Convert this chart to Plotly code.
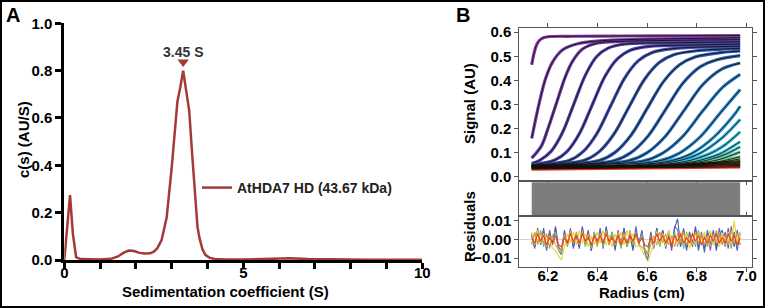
import numpy as np
import plotly.graph_objects as go

W, H = 765, 308
FONT = "Liberation Sans, Arial, sans-serif"

# ---------------- Panel A data: c(s) distribution ----------------
sed_s = [0, 0.08, 0.16, 0.24, 0.33, 0.45, 0.7, 1.0, 1.3, 1.5, 1.65, 1.8, 1.95, 2.1, 2.25, 2.4,
         2.5, 2.6, 2.72, 2.86, 3.0, 3.08, 3.16, 3.24, 3.32, 3.4, 3.49, 3.57, 3.65, 3.72, 3.78,
         3.86, 3.94, 4.05, 4.2, 4.5, 5.0, 5.5, 5.9, 6.3, 6.8, 7.5, 8.5, 10]
cs_vals = [0, 0.13, 0.274, 0.11, 0.012, 0.004, 0.002, 0.002, 0.005, 0.015, 0.03, 0.04, 0.038,
           0.03, 0.027, 0.028, 0.035, 0.05, 0.085, 0.18, 0.39, 0.55, 0.67, 0.73, 0.80, 0.72,
           0.63, 0.45, 0.26, 0.14, 0.09, 0.045, 0.022, 0.01, 0.004, 0.002, 0.002, 0.004, 0.008,
           0.007, 0.004, 0.002, 0.001, 0.001]
peak_label = "3.45 S"
legend_label = "AtHDA7 HD (43.67 kDa)"
a_xticks = [0, 1, 2, 3, 4, 5, 6, 7, 8, 9, 10]
a_xticktext = ["0", "", "", "", "", "5", "", "", "", "", "10"]
a_yticks = [0.0, 0.2, 0.4, 0.6, 0.8, 1.0]

# ---------------- Panel B data: absorbance scans ----------------
scans_r = [
    [6.135, 6.145, 6.155, 6.168, 6.185, 6.21, 6.3, 6.5, 6.75, 6.975],
    [6.135, 6.15, 6.165, 6.19, 6.22, 6.26, 6.32, 6.42, 6.6, 6.8, 6.975],
    [6.135, 6.175, 6.2, 6.235, 6.27, 6.3, 6.34, 6.4, 6.5, 6.7, 6.975],
    [6.135, 6.167, 6.213, 6.259, 6.305, 6.351, 6.397, 6.443, 6.512, 6.7, 6.975],
    [6.135, 6.226, 6.277, 6.328, 6.379, 6.43, 6.481, 6.532, 6.609, 6.8, 6.975],
    [6.135, 6.285, 6.341, 6.397, 6.453, 6.509, 6.565, 6.621, 6.705, 6.975],
    [6.135, 6.344, 6.405, 6.466, 6.527, 6.588, 6.649, 6.71, 6.8, 6.975],
    [6.135, 6.406, 6.471, 6.536, 6.601, 6.666, 6.731, 6.796, 6.894, 6.975],
    [6.135, 6.465, 6.535, 6.605, 6.675, 6.745, 6.815, 6.885, 6.975],
    [6.135, 6.524, 6.599, 6.674, 6.749, 6.824, 6.899, 6.975],
    [6.135, 6.583, 6.663, 6.743, 6.823, 6.903, 6.975],
    [6.135, 6.4, 6.645, 6.729, 6.813, 6.897, 6.975],
    [6.135, 6.5, 6.691, 6.779, 6.867, 6.955, 6.975],
    [6.135, 6.55, 6.717, 6.809, 6.901, 6.975],
    [6.135, 6.6, 6.753, 6.849, 6.91, 6.975],
    [6.135, 6.6, 6.79, 6.84, 6.89, 6.975],
    [6.135, 6.65, 6.813, 6.864, 6.916, 6.975],
    [6.135, 6.65, 6.846, 6.899, 6.975],
    [6.135, 6.7, 6.836, 6.891, 6.975],
    [6.135, 6.7, 6.865, 6.975],
    [6.135, 6.7, 6.975],
    [6.135, 6.7, 6.975],
    [6.135, 6.7, 6.975],
    [6.135, 6.7, 6.975],
    [6.135, 6.7, 6.975],
    [6.135, 6.7, 6.975],
    [6.135, 6.7, 6.975],
    [6.135, 6.975],
]
scans_v = [
    [0.465, 0.515, 0.548, 0.568, 0.578, 0.582, 0.583, 0.584, 0.585, 0.586],
    [0.16, 0.235, 0.305, 0.405, 0.478, 0.527, 0.552, 0.565, 0.571, 0.574, 0.577],
    [0.078, 0.13, 0.199, 0.307, 0.414, 0.48, 0.53, 0.555, 0.562, 0.566, 0.569],
    [0.056, 0.069, 0.106, 0.184, 0.303, 0.421, 0.499, 0.534, 0.551, 0.556, 0.56],
    [0.05, 0.069, 0.105, 0.181, 0.299, 0.416, 0.49, 0.525, 0.541, 0.547, 0.551],
    [0.048, 0.068, 0.104, 0.179, 0.294, 0.409, 0.482, 0.516, 0.532, 0.542],
    [0.048, 0.068, 0.103, 0.177, 0.29, 0.402, 0.474, 0.507, 0.523, 0.533],
    [0.048, 0.068, 0.102, 0.174, 0.285, 0.395, 0.465, 0.498, 0.515, 0.522],
    [0.048, 0.067, 0.101, 0.171, 0.28, 0.389, 0.457, 0.487, 0.503],
    [0.048, 0.067, 0.1, 0.169, 0.276, 0.382, 0.446, 0.472],
    [0.048, 0.066, 0.099, 0.167, 0.272, 0.37, 0.425],
    [0.048, 0.048, 0.066, 0.098, 0.165, 0.268, 0.362],
    [0.047, 0.048, 0.066, 0.097, 0.163, 0.263, 0.293],
    [0.047, 0.048, 0.065, 0.096, 0.161, 0.238],
    [0.046, 0.048, 0.064, 0.095, 0.13, 0.187],
    [0.046, 0.047, 0.064, 0.077, 0.094, 0.146],
    [0.045, 0.047, 0.063, 0.076, 0.094, 0.125],
    [0.045, 0.047, 0.063, 0.075, 0.104],
    [0.044, 0.048, 0.057, 0.064, 0.084],
    [0.043, 0.048, 0.057, 0.075],
    [0.042, 0.05, 0.068],
    [0.041, 0.049, 0.064],
    [0.04, 0.048, 0.061],
    [0.039, 0.047, 0.058],
    [0.038, 0.045, 0.055],
    [0.037, 0.044, 0.052],
    [0.035, 0.041, 0.048],
    [0.033, 0.042],
]
scan_colors = ["#8B3FA8", "#7A3EA5", "#6A3FA4", "#5A3FA6", "#4B45A8", "#3F4EAA", "#3556AA",
               "#2F5CAD", "#2D63B0", "#2C6CB5", "#2B77BC", "#2C86C6", "#2E98D2", "#32ABDC",
               "#38BBDF", "#45C2D4", "#55C4BE", "#62C3A6", "#6FC38C", "#7BC470", "#86C55A",
               "#97C84A", "#AECD3E", "#C8D338", "#E2D934", "#F2C12E", "#F08A28", "#E8331F"]

# residuals (in units of 1e-3 AU), read along the radius range
resid_purple = [3, -5, 6, -2, 4, -6, 5, -3, 7, -4, -6, 5, -3, 6, -5, 3, -4, 7, -2, 5, -6, 4, -3, 6, -5, 7,
                -2, 4, -6, 5, -3, 6, -4, 3, -5, 7, -3, 5, -6, -8, 4, -5, 6, -3, 5, -4, 3, -6, 7, 5, -4, 6,
                -5, 3, -4, 7, -6, 4, -5, 3, -6, 5, -4, 6, -3, 4, -5, 7, -4, 5, -3]
resid_blue = [2, -4, 5, -3, 6, -5, 3, -2, 6, -6, -8, 4, -3, 5, -4, 2, -5, 6, -3, 4, -6, 3, -2, 5, -4, 6,
              -3, 2, -5, 4, -3, 6, -4, 3, -6, 5, -2, 4, -7, -11, 3, -4, 6, -3, 5, -5, 2, -4, 6, 11, -3, 5,
              -6, 4, -2, 6, -5, 3, -7, 5, -3, 4, -6, 2, 5, -4, 6, -3, 4, -6, 3]
resid_green = [-3, 4, -2, 5, -4, 3, -5, 2, 4, -6, -7, 3, -4, 5, -2, 4, -3, 5, -4, 2, -5, 4, -3, 3, -4, 5,
               -2, 4, -3, 2, -5, 3, -4, 5, -3, 4, -2, 3, -5, -8, 2, -3, 5, -4, 3, -2, 5, -3, 4, -4, 3, -5,
               4, -2, 3, -4, 5, -3, 2, -4, 4, -3, 5, -2, 3, -4, 4, -5, 3, -2, 4]
resid_yellow = [4, -3, 5, -2, 3, -4, 2, -5, -6, -9, -11, -4, 3, -2, 4, -3, 5, -2, 3, -4, 2, -3, 4, -2, 5,
                -3, 2, -4, 3, -2, 4, -3, 5, -2, 3, -4, -3, -6, -9, -12, -7, -3, 4, -2, 3, -4, 5, -3, 2, -3,
                4, -2, 3, -5, 4, -2, 3, -3, 4, -2, 5, -3, 2, -4, 3, -2, 4, -3, 10, -2, 3]
resid_orange = [-2, 3, -3, 4, -2, 3, -4, 2, -3, -5, -6, 2, -3, 4, -2, 3, -3, 4, -2, 3, -3, 2, -4, 3, -2, 4,
                -3, 2, -3, 4, -2, 3, -3, 4, -2, 3, -3, -4, -6, -8, -3, 2, -3, 4, -2, 3, -3, 2, -4, 3, -2,
                4, -3, 2, -3, 4, -2, 3, -3, 2, -4, 3, -2, 4, -3, 2, -3, 5, -2, 3, -3]
resid_red = [1, -2, 3, -1, 2, -3, 1, -2, 2, -3, -4, 1, -2, 3, -1, 2, -2, 3, -1, 1, -3, 2, -1, 2, -2, 3, -1,
             1, -2, 2, -3, 1, -2, 2, -1, 3, -2, 1, -3, -4, 1, -2, 3, -1, 2, -2, 1, -3, 2, -1, 3, -2, 1, -2,
             3, -1, 2, -3, 1, -2, 2, -1, 3, -2, 1, -2, 3, -1, 2, -3, 1]
resid_series = [(resid_purple, "#7E4FB8"), (resid_blue, "#3E63C0"), (resid_green, "#62C27A"),
                (resid_yellow, "#E9D33A"), (resid_orange, "#F3972E"), (resid_red, "#EC3B1E")]

b_xticks = [6.2, 6.4, 6.6, 6.8, 7.0]
b_yticks = [0.0, 0.1, 0.2, 0.3, 0.4, 0.5, 0.6]
r_yticks = [-0.01, 0.0, 0.01]

# ---------------- geometry helpers (pixels -> paper) ----------------
def px(x):
    return x / W

def py(y):
    return 1 - y / H

fig = go.Figure()

# Panel A
A_RED = "#A43A37"
fig.add_trace(go.Scatter(x=sed_s, y=cs_vals, mode="lines", name=legend_label,
                         line=dict(color=A_RED, width=2.5), xaxis="x", yaxis="y",
                         showlegend=True))
ipk = int(np.argmax(cs_vals))
fig.add_trace(go.Scatter(x=[sed_s[ipk]], y=[cs_vals[ipk] + 0.037], mode="markers",
                         marker=dict(symbol="triangle-down", size=10, color=A_RED),
                         xaxis="x", yaxis="y", showlegend=False, hoverinfo="skip"))

# Panel B main: colored scans then black fits
for r, v, c in zip(scans_r, scans_v, scan_colors):
    fig.add_trace(go.Scatter(x=r, y=v, mode="lines", line=dict(color=c, width=3.2, shape="spline", smoothing=0.9),
                             xaxis="x2", yaxis="y2", showlegend=False, hoverinfo="skip"))
for r, v in zip(scans_r, scans_v):
    fig.add_trace(go.Scatter(x=r, y=v, mode="lines", line=dict(color="#111111", width=0.9, shape="spline", smoothing=0.9),
                             xaxis="x2", yaxis="y2", showlegend=False, hoverinfo="skip"))

r_min = min(min(r) for r in scans_r)
r_max = max(max(r) for r in scans_r)

# residual traces
for vals, col in resid_series:
    rr = np.linspace(r_min, r_max, len(vals))
    fig.add_trace(go.Scatter(x=rr, y=np.array(vals) * 1e-3, mode="lines",
                             line=dict(color=col, width=1.1), xaxis="x4", yaxis="y4",
                             showlegend=False, hoverinfo="skip"))

# grey residual bitmap
fig.add_shape(type="rect", xref="x3", yref="y3 domain", x0=r_min, x1=r_max, y0=0, y1=1,
              fillcolor="#7d7d7d", line=dict(width=0), layer="above")

# ---------------- axes ----------------
tickfontA = dict(family=FONT, size=15, color="black", weight="bold")
tickfontB = dict(family=FONT, size=15, color="black", weight="bold")

bx_dom = [px(519.3), px(752.3)]
b_xrange = [6.085, 7.024]
frame = dict(showline=True, linecolor="#555555", linewidth=1, mirror="ticks",
             ticks="outside", ticklen=4, tickcolor="#555555", tickwidth=1,
             showgrid=False, zeroline=False)

fig.update_layout(
    autosize=True, margin=dict(l=0, r=0, t=0, b=0, pad=0, autoexpand=False),
    paper_bgcolor="white", plot_bgcolor="rgba(0,0,0,0)",
    xaxis=dict(domain=[px(64.3), px(422.3)], range=[0, 10], anchor="y",
               tickvals=a_xticks, ticktext=a_xticktext, ticks="outside", ticklen=6, tickwidth=3,
               tickcolor="black", showline=True, linewidth=3, linecolor="black",
               showgrid=False, zeroline=False, tickfont=tickfontA, ticklabelstandoff=-9),
    yaxis=dict(domain=[py(260), py(23.3)], range=[0, 1], anchor="x",
               tickvals=a_yticks, tickformat=".1f", ticks="outside", ticklen=6, tickwidth=3,
               tickcolor="black", showline=True, linewidth=3, linecolor="black",
               showgrid=False, zeroline=False, tickfont=tickfontA),
    xaxis2=dict(domain=bx_dom, range=b_xrange, anchor="y2", tickvals=b_xticks,
                showticklabels=False, **frame),
    yaxis2=dict(domain=[py(180.3), py(28.3)], range=[-0.0137, 0.616], anchor="x2",
                tickvals=b_yticks, tickformat=".1f", tickfont=tickfontB, **frame),
    xaxis3=dict(domain=bx_dom, range=b_xrange, anchor="y3", showticklabels=False,
                showline=True, linecolor="#555555", linewidth=1, mirror=True, ticks="",
                showgrid=False, zeroline=False),
    yaxis3=dict(domain=[py(215), py(182.3)], range=[0, 1], anchor="x3", showticklabels=False,
                showline=True, linecolor="#555555", linewidth=1, mirror=True, ticks="",
                showgrid=False, zeroline=False),
    xaxis4=dict(domain=bx_dom, range=b_xrange, anchor="y4", tickvals=b_xticks,
                tickformat=".1f", tickfont=tickfontB, ticklabelstandoff=-9, **frame),
    yaxis4=dict(domain=[py(266.7), py(216.7)], range=[-0.0146, 0.0121], anchor="x4",
                tickvals=r_yticks, tickformat=".2f", tickfont=tickfontB,
                **{k: v for k, v in frame.items() if k != "zeroline"},
                zeroline=True, zerolinecolor="#d0d0d0", zerolinewidth=1),
    legend=dict(x=px(197), y=py(188), xanchor="left", yanchor="middle",
                bgcolor="rgba(0,0,0,0)", font=dict(family=FONT, size=14, color="#222", weight="bold"),
                itemwidth=30, tracegroupgap=0),
    showlegend=True,
)

# ---------------- text ----------------
ann = []
def add_text(text, x, y, size, angle=0, xanchor="center", yanchor="middle", color="black"):
    ann.append(dict(text=text, x=x, y=y, xref="paper", yref="paper", showarrow=False,
                    textangle=angle, xanchor=xanchor, yanchor=yanchor,
                    font=dict(family=FONT, size=size, color=color, weight="bold")))

add_text("A", px(13), py(15), 20)
add_text("B", px(463), py(15), 20)
add_text("c(s) (AU/S)", px(23), py(140), 15, angle=-90)
add_text("Sedimentation coefficient (S)", px(225), py(291), 15)
add_text("Signal (AU)", px(469), py(104), 15, angle=-90)
add_text("Residuals", px(469), py(227), 15, angle=-90)
add_text("Radius (cm)", px(642), py(292), 15)
ann.append(dict(text=peak_label, x=sed_s[ipk], y=cs_vals[ipk] + 0.078, xref="x", yref="y",
                showarrow=False, font=dict(family=FONT, size=14, color="#333", weight="bold")))
fig.update_layout(annotations=ann)

# outer frame
fig.add_shape(type="rect", xref="paper", yref="paper", x0=0, x1=1, y0=0, y1=1,
              line=dict(color="black", width=4), fillcolor="rgba(0,0,0,0)", layer="above")

post = (
    "var gd=document.getElementById('{plot_id}');"
    "document.documentElement.style.cssText='margin:0;padding:0;height:100%;width:100%;overflow:hidden;';"
    "document.body.style.cssText='margin:0;padding:0;height:100%;width:100%;overflow:hidden;';"
    "gd.parentElement.style.cssText='margin:0;padding:0;height:100%;width:100%;';"
    "gd.style.height='100%';gd.style.width='100%';"
    "Plotly.Plots.resize(gd);"
)
fig.write_html("out.html", default_width="100%", default_height="100%",
               config={"responsive": True, "displayModeBar": False}, post_script=post)
